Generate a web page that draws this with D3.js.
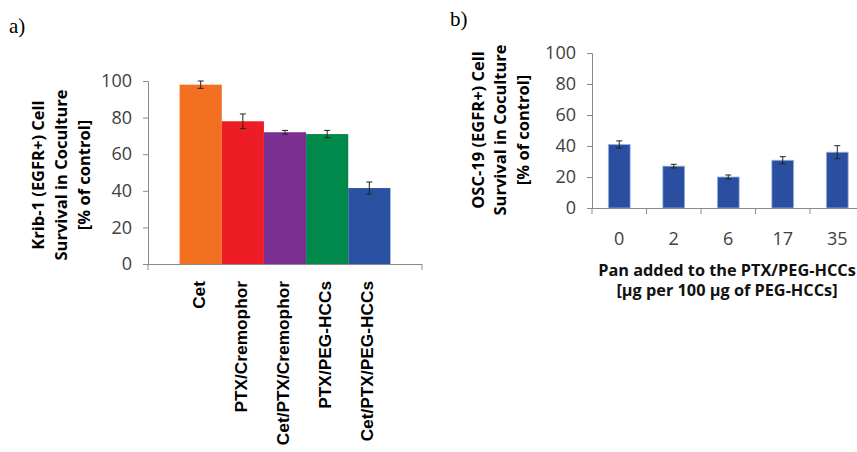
<!DOCTYPE html>
<html><head><meta charset="utf-8">
<script src="https://cdn.jsdelivr.net/npm/d3@7"></script>
<style>body{margin:0;background:#fff}svg{display:block}</style>
</head><body>
<script>
const catsA = ["Cet","PTX/Cremophor","Cet/PTX/Cremophor","PTX/PEG-HCCs","Cet/PTX/PEG-HCCs"];
const valsA = [98, 78, 72, 71, 41.5];
const errA  = [2, 4, 1, 2, 3.3];
const colorsA = ["#F37021","#EE1D25","#7B2F91","#00894A","#2A52A2"];
const ticksA = [0,20,40,60,80,100];
const titleA = ["Krib-1 (EGFR+) Cell","Survival in Coculture","[% of control]"];

const catsB = ["0","2","6","17","35"];
const valsB = [41, 27, 20, 30.8, 36];
const errB  = [2.3, 1.2, 1.3, 2.3, 4.2];
const ticksB = [0,20,40,60,80,100];
const titleBy = ["OSC-19 (EGFR+) Cell","Survival in Coculture","[% of control]"];
const titleBx = ["Pan added to the PTX/PEG-HCCs","[\u00b5g per 100 \u00b5g of PEG-HCCs]"];

const W=857,H=452;
const svg=d3.select("body").append("svg").attr("width",W).attr("height",H);
const axisCol="#8a8a8a", tickTxt="#404040";
const numFont="'Open Sans', sans-serif";
const numSize=18;

// panel labels
svg.append("text").attr("x",9).attr("y",33).attr("font-family","'Liberation Serif', serif").attr("font-size",21).text("a)");
svg.append("text").attr("x",450).attr("y",26).attr("font-family","'Liberation Serif', serif").attr("font-size",21).text("b)");

// ---------- Panel A ----------
const yA=d3.scaleLinear().domain([0,100]).range([264,81]);
const xA=d3.scaleBand().domain(catsA).range([148,422]).paddingInner(0).paddingOuter(0.75);
const gA=svg.append("g");
gA.selectAll("rect").data(catsA).join("rect")
  .attr("x",d=>xA(d)).attr("width",xA.bandwidth())
  .attr("y",(d,i)=>yA(valsA[i])).attr("height",(d,i)=>yA(0)-yA(valsA[i]))
  .attr("fill",(d,i)=>colorsA[i]);
catsA.forEach((c,i)=>{
  const cx=xA(c)+xA.bandwidth()/2, t=yA(valsA[i]+errA[i]), b=yA(valsA[i]-errA[i]);
  const g=gA.append("g").attr("stroke","#222").attr("stroke-width",1);
  g.append("line").attr("x1",cx).attr("x2",cx).attr("y1",t).attr("y2",b);
  g.append("line").attr("x1",cx-3).attr("x2",cx+3).attr("y1",t).attr("y2",t);
  g.append("line").attr("x1",cx-3).attr("x2",cx+3).attr("y1",b).attr("y2",b);
});
const yAxA=gA.append("g").attr("transform","translate(148,0)")
  .call(d3.axisLeft(yA).tickValues(ticksA).tickSize(5).tickPadding(11));
yAxA.select(".domain").attr("stroke",axisCol);
yAxA.selectAll(".tick line").attr("stroke",axisCol);
yAxA.selectAll(".tick text").attr("font-family",numFont).attr("font-size",numSize).attr("fill",tickTxt);
gA.append("line").attr("x1",148).attr("x2",422).attr("y1",yA(0)+0.5).attr("y2",yA(0)+0.5).attr("stroke",axisCol);
[148,422].forEach(x=>gA.append("line").attr("x1",x).attr("x2",x).attr("y1",yA(0)).attr("y2",yA(0)+6).attr("stroke",axisCol));
gA.selectAll("text.cat").data(catsA).join("text").attr("class","cat")
  .attr("transform",d=>`translate(${xA(d)+xA.bandwidth()/2-2},281) rotate(-90)`)
  .attr("text-anchor","end").attr("dy","0.35em")
  .attr("font-family","'Liberation Sans', Arial, sans-serif").attr("font-weight","bold").attr("font-size",17.3)
  .text(d=>d);
titleA.forEach((t,i)=>{
  svg.append("text").attr("transform",`translate(${38+i*23},175) rotate(-90)`)
    .attr("text-anchor","middle").attr("dy","0.35em")
    .attr("font-family","'Open Sans', sans-serif").attr("font-weight","bold").attr("font-size",16.5)
    .text(t);
});

// ---------- Panel B ----------
const yB=d3.scaleLinear().domain([0,100]).range([208,53]);
const xB=d3.scaleBand().domain(catsB).range([592,864.5]).paddingInner(0.6).paddingOuter(0.3);
const gB=svg.append("g");
gB.selectAll("rect").data(catsB).join("rect")
  .attr("x",d=>xB(d)).attr("width",xB.bandwidth())
  .attr("y",(d,i)=>yB(valsB[i])).attr("height",(d,i)=>yB(0)-yB(valsB[i]))
  .attr("fill","#2A4FA0").attr("stroke","#9fb3dc").attr("stroke-width",0.8);
catsB.forEach((c,i)=>{
  const cx=xB(c)+xB.bandwidth()/2, t=yB(valsB[i]+errB[i]), b=yB(valsB[i]-errB[i]);
  const g=gB.append("g").attr("stroke","#222").attr("stroke-width",1);
  g.append("line").attr("x1",cx).attr("x2",cx).attr("y1",t).attr("y2",b);
  g.append("line").attr("x1",cx-3).attr("x2",cx+3).attr("y1",t).attr("y2",t);
  g.append("line").attr("x1",cx-3).attr("x2",cx+3).attr("y1",b).attr("y2",b);
});
const yAxB=gB.append("g").attr("transform","translate(592,0)")
  .call(d3.axisLeft(yB).tickValues(ticksB).tickSize(5).tickPadding(11));
yAxB.select(".domain").attr("stroke",axisCol);
yAxB.selectAll(".tick line").attr("stroke",axisCol);
yAxB.selectAll(".tick text").attr("font-family",numFont).attr("font-size",numSize).attr("fill",tickTxt);
gB.append("line").attr("x1",592).attr("x2",864.5).attr("y1",yB(0)+0.5).attr("y2",yB(0)+0.5).attr("stroke",axisCol);
const stepB=xB.step();
d3.range(catsB.length+1).forEach(k=>{
  const x=592+k*stepB;
  gB.append("line").attr("x1",x).attr("x2",x).attr("y1",yB(0)).attr("y2",yB(0)+6).attr("stroke",axisCol);
});
gB.selectAll("text.cat").data(catsB).join("text").attr("class","cat")
  .attr("x",d=>xB(d)+xB.bandwidth()/2).attr("y",245)
  .attr("text-anchor","middle").attr("font-family",numFont).attr("font-size",numSize).attr("fill",tickTxt)
  .text(d=>d);
titleBx.forEach((t,i)=>{
  svg.append("text").attr("x",727).attr("y",276+i*20).attr("text-anchor","middle")
    .attr("font-family","'Open Sans', sans-serif").attr("font-weight","bold").attr("font-size",16.3).attr("fill","#111")
    .text(t);
});
titleBy.forEach((t,i)=>{
  svg.append("text").attr("transform",`translate(${478+i*22.5},130) rotate(-90)`)
    .attr("text-anchor","middle").attr("dy","0.35em")
    .attr("font-family","'Open Sans', sans-serif").attr("font-weight","bold").attr("font-size",16.5)
    .text(t);
});
</script>
</body></html>
